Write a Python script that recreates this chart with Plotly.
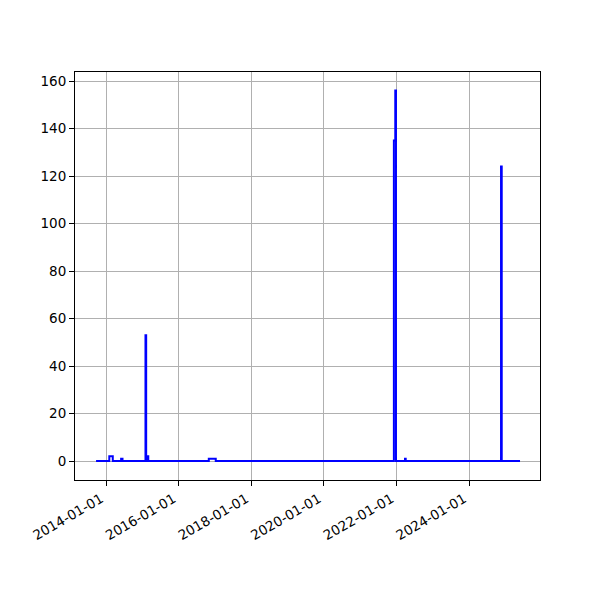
import plotly.graph_objects as go

dates = [
    "2013-09-23", "2014-02-03", "2014-03-10", "2014-06-02", "2014-06-16",
    "2015-02-02", "2015-02-09", "2015-02-16", "2015-03-02",
    "2016-10-31", "2017-01-09",
    "2021-12-06", "2021-12-20", "2021-12-27",
    "2022-03-28", "2022-04-04",
    "2024-11-18", "2024-11-25", "2025-05-28",
]
values = [
    0, 2, 0, 1, 0,
    53, 0, 2, 0,
    1, 0,
    135, 156, 0,
    1, 0,
    124, 0, 0,
]
y_ticks = [0, 20, 40, 60, 80, 100, 120, 140, 160]

fig = go.Figure()
fig.add_trace(go.Scatter(
    x=dates, y=values, mode="lines",
    line=dict(color="#0000ff", width=2, shape="hv"),
    showlegend=False,
))

axis_common = dict(
    showline=True, mirror=True, linecolor="black", linewidth=1,
    ticks="outside", ticklen=5, tickcolor="black", tickwidth=1,
    showgrid=True, gridcolor="#b0b0b0", gridwidth=1, zeroline=False,
    tickfont=dict(family="DejaVu Sans", size=13.5, color="black"),
)

fig.update_layout(
    width=600, height=600,
    margin=dict(l=67, r=68, t=64, b=128),
    paper_bgcolor="white", plot_bgcolor="white",
    font=dict(family="DejaVu Sans", size=13.5, color="black"),
    xaxis=dict(
        type="date", range=["2013-02-23", "2025-12-15"],
        tick0="2014-01-01", dtick="M24", tickformat="%Y-%m-%d",
        tickangle=-30, ticklabelshift=-5, **axis_common,
    ),
    yaxis=dict(range=[-8, 163.8], tickvals=y_ticks, **axis_common),
)

fig.write_html("out.html")
